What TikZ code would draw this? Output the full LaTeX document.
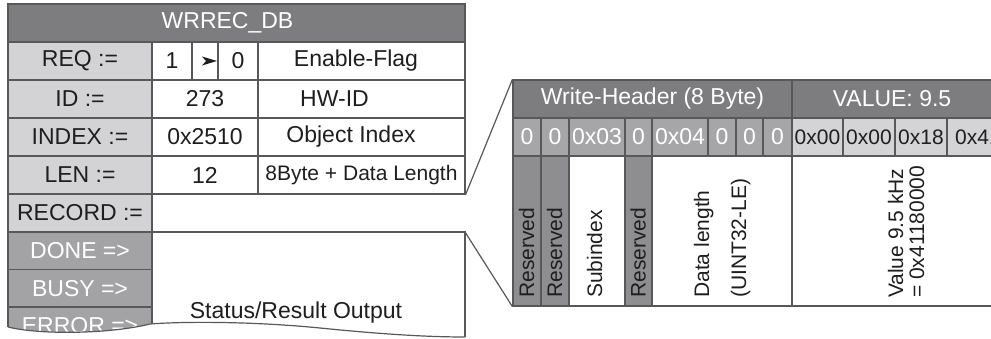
\documentclass[tikz,border=0pt]{standalone}
\usepackage{fontspec}
\setmainfont{Liberation Sans}
\definecolor{titlegray}{RGB}{125,125,128}
\definecolor{lablight}{RGB}{211,211,213}
\definecolor{outgray}{RGB}{163,163,166}
\definecolor{hbgray}{RGB}{166,166,169}
\definecolor{resgray}{RGB}{142,142,145}
\definecolor{vlight}{RGB}{212,212,214}
\definecolor{linec}{RGB}{88,88,90}
\definecolor{textc}{RGB}{30,30,30}
\newcommand\myfA{\fontsize{23}{27}\selectfont}
\newcommand\myfB{\fontsize{21}{25}\selectfont}
\begin{document}
\begin{tikzpicture}[x=1pt,y=-1pt,
  cell/.style={draw=linec, line width=1.2pt, inner sep=0pt, minimum height=38pt, font=\myfA, text=textc},
  lab/.style={cell, fill=lablight, minimum width=144pt},
  outlab/.style={cell, fill=outgray, text=white, minimum width=144pt},
  hdr/.style={cell, fill=titlegray, text=white},
  hbyte/.style={cell, fill=hbgray, text=white},
  vbyte/.style={cell, fill=vlight, font=\myfB},
  desc/.style={cell, minimum height=150pt},
  lbw/.style={inner sep=0pt, font=\myfA, text=white},
  lbd/.style={inner sep=0pt, font=\myfA, text=textc},
  txt/.style={inner sep=0pt, font=\myfA, text=textc},
  rot/.style={rotate=90, anchor=base west, inner sep=0pt, font=\myfB, text=textc},
  conn/.style={draw=linec, line width=1.2pt}
]
\useasboundingbox (0,0) rectangle (991,339);
\clip (0,0) rectangle (991,339);

% ---------- left table ----------
\node[hdr, minimum width=457pt, label={[lbw,xshift=-9pt]center:WRREC\_DB}] (title) at (236.5,23) {};

\node[lab] (lreq) at (80,61) {REQ :=};
\node[cell, minimum width=40pt] (v1) at (172,61) {1};
\node[cell, minimum width=26pt] (varr) at (205,61) {};
\node[cell, minimum width=40pt] (v0) at (238,61) {0};
\node[cell, minimum width=207pt, label={[lbd,xshift=-5.5pt]center:Enable-Flag}] (enf) at (361.5,61) {};
\fill[textc] ([shift={(-3pt,4.5pt)}]varr.center) -- ([shift={(12pt,0pt)}]varr.center)
   -- ([shift={(-3pt,-4.5pt)}]varr.center) -- ([shift={(1pt,0pt)}]varr.center) -- cycle;

\node[lab] (lid) at (80,99) {ID :=};
\node[cell, minimum width=106pt] (vid) at (205,99) {273};
\node[cell, minimum width=207pt, label={[lbd,xshift=-27pt]center:HW-ID}] (hwid) at (361.5,99) {};

\node[lab] (lidx) at (80,137) {INDEX :=};
\node[cell, minimum width=106pt] (vidx) at (205,137) {0x2510};
\node[cell, minimum width=207pt, label={[lbd,xshift=-10.5pt]center:Object Index}] (oidx) at (361.5,137) {};

\node[lab] (llen) at (80,175) {LEN :=};
\node[cell, minimum width=106pt] (vlen) at (205,175) {12};
\node[cell, minimum width=207pt, font=\myfB] (dlen) at (361.5,175) {8Byte + Data Length};

\node[lab] (lrec) at (80,213) {RECORD :=};
\node[outlab, minimum height=37.5pt] (ldone) at (80,250.75) {DONE =>};
\node[outlab, minimum height=37.5pt] (lbusy) at (80,288.25) {BUSY =>};
\node[outlab] (lerr) at (80,326) {ERROR =>};

% status / result box
\coordinate (stTL) at (152,232);
\coordinate (stTR) at (465,232);
\coordinate (stBR) at (465,337);
\draw[conn] (stTL) -- (stTR) -- (stBR);
\node[txt, anchor=base] (status) at (296,318) {Status/Result Output};

% torn bottom edge
\fill[white] (0,327) -- (8,327) .. controls (40,335) and (110,334) .. (150,324)
   .. controls (190,321) and (260,322) .. (320,328)
   .. controls (370,333) and (420,337) .. (465,337) -- (480,337) -- (480,350) -- (0,350) -- cycle;
\draw[conn] (8,327) .. controls (40,335) and (110,334) .. (150,324)
   .. controls (190,321) and (260,322) .. (320,328)
   .. controls (370,333) and (420,337) .. (465,337);

% ---------- right table ----------
\node[hdr, minimum width=279pt] (wh) at (652.5,99) {Write-Header (8 Byte)};
\node[hdr, minimum width=228pt, label={[lbw,xshift=-14pt]center:VALUE: 9.5}] (vh) at (906,99) {};

\node[hbyte, minimum width=28pt] (b1) at (527,137) {0};
\node[hbyte, minimum width=28pt] (b2) at (555,137) {0};
\node[hbyte, minimum width=56pt] (b3) at (597,137) {0x03};
\node[hbyte, minimum width=27pt] (b4) at (638.5,137) {0};
\node[hbyte, minimum width=56pt] (b5) at (680,137) {0x04};
\node[hbyte, minimum width=28pt] (b6) at (722,137) {0};
\node[hbyte, minimum width=27pt] (b7) at (749.5,137) {0};
\node[hbyte, minimum width=29pt] (b8) at (777.5,137) {0};
\node[vbyte, minimum width=51pt] (b9) at (817.5,137) {0x00};
\node[vbyte, minimum width=52pt] (b10) at (869,137) {0x00};
\node[vbyte, minimum width=52pt] (b11) at (921,137) {0x18};
\node[vbyte, minimum width=62pt] (b12) at (978,137) {0x41};

\node[desc, fill=resgray, minimum width=28pt] (d1) at (527,231) {};
\node[desc, fill=resgray, minimum width=28pt] (d2) at (555,231) {};
\node[desc, minimum width=56pt] (d3) at (597,231) {};
\node[desc, fill=resgray, minimum width=27pt] (d4) at (638.5,231) {};
\node[desc, minimum width=140pt] (d5) at (722,231) {};
\node[desc, minimum width=218pt] (d6) at (901,231) {};

\node[rot] (t1) at (534,298) {Reserved};
\node[rot] (t2) at (562,298) {Reserved};
\node[rot] (t3) at (602,298) {Subindex};
\node[rot] (t4) at (645.5,298) {Reserved};
\node[rot] (t5) at (709,298) {Data length};
\node[rot] (t6) at (746,298) {(UINT32-LE)};
\node[rot] (t7) at (903,298) {Value 9.5 kHz};
\node[rot] (t8) at (924,298) {= 0x41180000};

% ---------- connectors ----------
\draw[conn] (dlen.south east) -- (wh.north west);
\draw[conn] (stTR) -- (d1.south west);
\end{tikzpicture}
\end{document}
